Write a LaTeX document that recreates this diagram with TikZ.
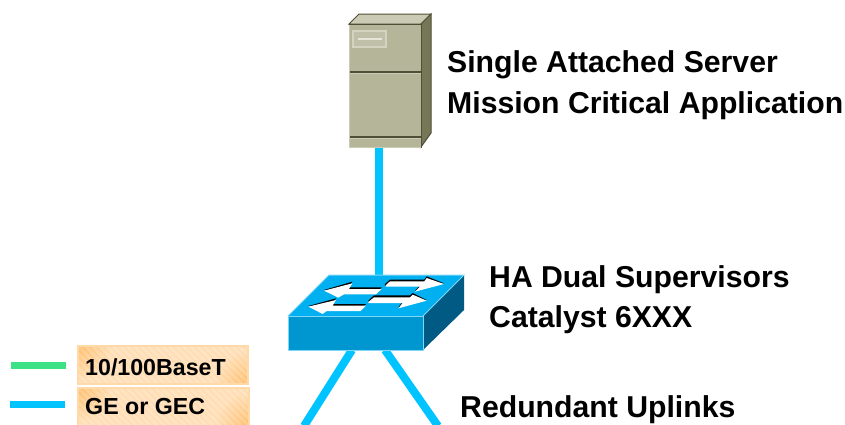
\documentclass[tikz,border=0pt]{standalone}
\usepackage{fontspec}
\setmainfont{Liberation Sans}
\usetikzlibrary{calc}
\definecolor{link}{HTML}{00C4FF}
\definecolor{fast}{HTML}{3DE287}
\definecolor{srvF}{HTML}{B5B59A}
\definecolor{srvT}{HTML}{CBCBB5}
\definecolor{srvS}{HTML}{777757}
\definecolor{srvL}{HTML}{4F4F38}
\definecolor{swT}{HTML}{00B0F0}
\definecolor{swF}{HTML}{0096CF}
\definecolor{swS}{HTML}{005A84}
\definecolor{swE}{HTML}{7FD6F7}
\definecolor{orgA}{HTML}{FFBC66}
\definecolor{orgB}{HTML}{FFDDB3}
\definecolor{orgE}{HTML}{FFD9A8}
\tikzset{
  lab/.style={anchor=base west,inner sep=0pt,font=\bfseries\fontsize{30.2}{32}\selectfont,text=black},
  leglab/.style={anchor=base west,inner sep=0pt,font=\bfseries\fontsize{23.2}{25}\selectfont,text=black},
  uplink/.style={draw=link,line width=8pt},
  legline/.style={line width=7pt},
  face/.style={draw=none,minimum width=0pt,minimum height=0pt,inner sep=0pt},
  arrowW/.style={fill=white,draw=none},
}
\newcommand{\legbox}[4]{% x0,y0,x1,y1
  \begin{scope}
    \clip (#1,#2) rectangle (#3,#4);
    \fill[orgB] (#1,#2) rectangle (#3,#4);
    \shade[inner color=orgA,outer color=orgB] (#1,#2) circle[radius=34];
    \shade[inner color=orgA,outer color=orgB] (#3,#4) circle[radius=34];
    \foreach \k in {-42,-35,...,180}{
      \draw[white,opacity=0.2,line width=3pt] ($(#1,#2)+(\k,0)$) -- ++(44,44);
    }
  \end{scope}
  \draw[orgE,line width=2pt] (#1,#2) rectangle (#3,#4);
}
\begin{document}
\begin{tikzpicture}[x=1pt,y=-1pt]
\useasboundingbox (0,0) rectangle (845,424);
\fill[white] (0,0) rectangle (845,424);
% links first
\coordinate (swTopLink) at (379,276);
\coordinate (swLeftOut) at (352,350);
\coordinate (swRightOut) at (385,350);
\coordinate (upL) at (304,426);
\coordinate (upR) at (438,426);
\coordinate (srvOut) at (379,147);
\draw[uplink] (srvOut) -- (swTopLink);
\draw[uplink] (swLeftOut) -- (upL);
\draw[uplink] (swRightOut) -- (upR);
% server
\fill[srvT,draw=srvL,line width=1pt] (349,24) -- (359,14) -- (431,14) -- (421,24) -- cycle;
\fill[srvS,draw=srvL,line width=1pt] (421,24) -- (431,14) -- (431,133) -- (421,147) -- cycle;
\node[face,fill=srvF,draw=srvL,line width=1pt,minimum width=72pt,minimum height=123pt] (server) at (385,85.5) {};
\draw[srvL,line width=1.3pt] (349,72) -- (421,72);
\draw[srvT,line width=.8pt] (349,73.5) -- (421,73.5);
\draw[srvL,line width=1.3pt] (349,137) -- (421,137);
\draw[srvT,line width=.8pt] (349,138.5) -- (421,138.5);
\draw[srvT,line width=.8pt] (349,24.5) -- (349,147) -- (421,147);
\node[face,fill=srvF!85!white,draw=srvT!85!white,line width=1.2pt,minimum width=33pt,minimum height=16pt] (badge) at (369.5,39) {};
\draw[srvT!50!white,line width=1.4pt] (358,39) -- (382,39);
% switch
\fill[swT] (288,316) -- (329,275) -- (464,275) -- (423,316) -- cycle;
\fill[swS] (423,316) -- (464,275) -- (464,310) -- (423,350) -- cycle;
\node[face,fill=swF,draw=swE,line width=1pt,minimum width=135pt,minimum height=34pt] (switch) at (355.5,333) {};
\draw[swE,line width=1pt] (288,316) -- (329,275) -- (464,275) -- (423,316);
% arrows in zoom coordinates
\begin{scope}[shift={(270,260)},x=0.3333pt,y=-0.3333pt]
  \fill[black] (162,90) -- (247,65) -- (237,82) -- (335,82) -- (318,100) -- (222,100) -- (205,110) -- cycle;
  \fill[black] (345,72) -- (360,59) -- (463,59) -- (470,49) -- (522,70) -- (435,92) -- (450,77) -- (345,77) -- cycle;
  \fill[black] (295,122) -- (312,106) -- (420,106) -- (428,99) -- (470,120) -- (385,142) -- (398,125) -- (295,125) -- cycle;
  \fill[black] (115,138) -- (198,115) -- (188,132) -- (288,132) -- (272,150) -- (170,150) -- (158,160) -- cycle;
  \fill[arrowW] (162,92) -- (247,70) -- (237,87) -- (335,87) -- (318,103) -- (222,103) -- (205,113) -- cycle;
  \fill[arrowW] (347,76) -- (360,64) -- (463,64) -- (470,54) -- (522,72) -- (435,95) -- (450,80) -- (347,80) -- cycle;
  \fill[arrowW] (295,126) -- (312,112) -- (420,112) -- (428,104) -- (470,122) -- (385,145) -- (398,129) -- (295,129) -- cycle;
  \fill[arrowW] (115,140) -- (198,120) -- (188,137) -- (288,137) -- (272,153) -- (170,153) -- (158,162) -- cycle;
\end{scope}
% labels
\node[lab] (t1) at (447,72) {Single Attached Server};
\node[lab] (t2) at (447,113) {Mission Critical Application};
\node[lab] (t3) at (489,287) {HA Dual Supervisors};
\node[lab] (t4) at (489,327) {Catalyst 6XXX};
\node[lab] (t5) at (460,417) {Redundant Uplinks};
% legend
\legbox{78}{346}{248}{384}
\legbox{78}{388}{249}{426}
\node[leglab] (l1) at (85,375) {10/100BaseT};
\node[leglab] (l2) at (85,414) {GE or GEC};
\coordinate (g1) at (11,365);
\coordinate (g2) at (66,365);
\coordinate (b1) at (10,404.5);
\coordinate (b2) at (65,404.5);
\draw[legline,draw=fast] (g1) -- (g2);
\draw[legline,draw=link] (b1) -- (b2);
\end{tikzpicture}
\end{document}
